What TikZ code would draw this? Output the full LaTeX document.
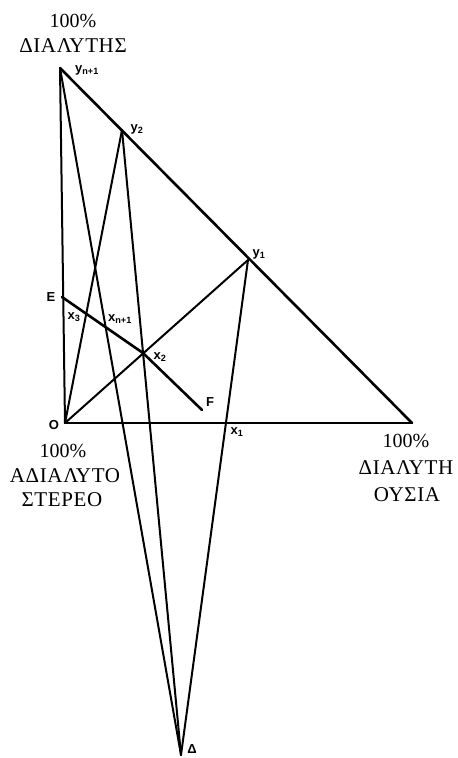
\documentclass[tikz,border=0pt]{standalone}
\usepackage{fontspec}
\setmainfont{Liberation Serif}
\setsansfont{Liberation Sans}
\begin{document}
\begin{tikzpicture}[x=1pt,y=-1pt,line join=round,line cap=round,
  big/.style={font=\fontsize{20}{22}\selectfont,inner sep=0pt},
  grk/.style={font=\fontsize{21}{22}\selectfont\addfontfeatures{LetterSpace=3},inner sep=0pt},
  lbl/.style={font=\sffamily\bfseries\fontsize{13}{14}\selectfont,inner sep=0pt},
  edge/.style={line width=2pt},
  side/.style={line width=2.6pt}]
\useasboundingbox (0,0) rectangle (458,758);
\coordinate (T) at (60,68);
\coordinate (O) at (65,423);
\coordinate (R) at (412,423);
\coordinate (Y2) at (122,130);
\coordinate (Y1) at (248,260);
\coordinate (D) at (181,755);
\coordinate (E) at (62,297);
\coordinate (X2) at (143,353);
\coordinate (F) at (202,410);
% triangle
\draw[side] (T) -- (R);
\draw[side] (O) -- (R);
\draw[edge] (T) -- (O);
% construction lines
\draw[edge] (T) -- (D);
\draw[edge] (Y2) -- (D);
\draw[edge] (Y2) -- (O);
\draw[edge] (O) -- (Y1);
\draw[edge] (Y1) -- (D);
\draw[side] (E) -- (X2) -- (F);
% corner texts
\node[big] (t1) at (73,21) {100\%};
\node[grk] (t2) at (73,46) {ΔΙΑΛΥΤΗΣ};
\node[big] (o1) at (63,451) {100\%};
\node[grk] (o2) at (65,476) {ΑΔΙΑΛΥΤΟ};
\node[grk] (o3) at (62,500) {ΣΤΕΡΕΟ};
\node[big] (r1) at (406,441) {100\%};
\node[grk] (r2) at (406,468) {ΔΙΑΛΥΤΗ};
\node[grk] (r3) at (407,495) {ΟΥΣΙΑ};
% point labels
\node[lbl] (lyn) at (87,70) {y\textsubscript{n+1}};
\node[lbl] (ly2) at (137,129) {y\textsubscript{2}};
\node[lbl] (ly1) at (259,254) {y\textsubscript{1}};
\node[lbl] (lE) at (51,297) {E};
\node[lbl] (lx3) at (74,317) {x\textsubscript{3}};
\node[lbl] (lxn) at (120,319) {x\textsubscript{n+1}};
\node[lbl] (lx2) at (160,357) {x\textsubscript{2}};
\node[lbl] (lF) at (210,402) {F};
\node[lbl] (lx1) at (237,432) {x\textsubscript{1}};
\node[lbl] (lO) at (54,425) {O};
\node[lbl] (lD) at (192,749) {Δ};
\end{tikzpicture}
\end{document}
